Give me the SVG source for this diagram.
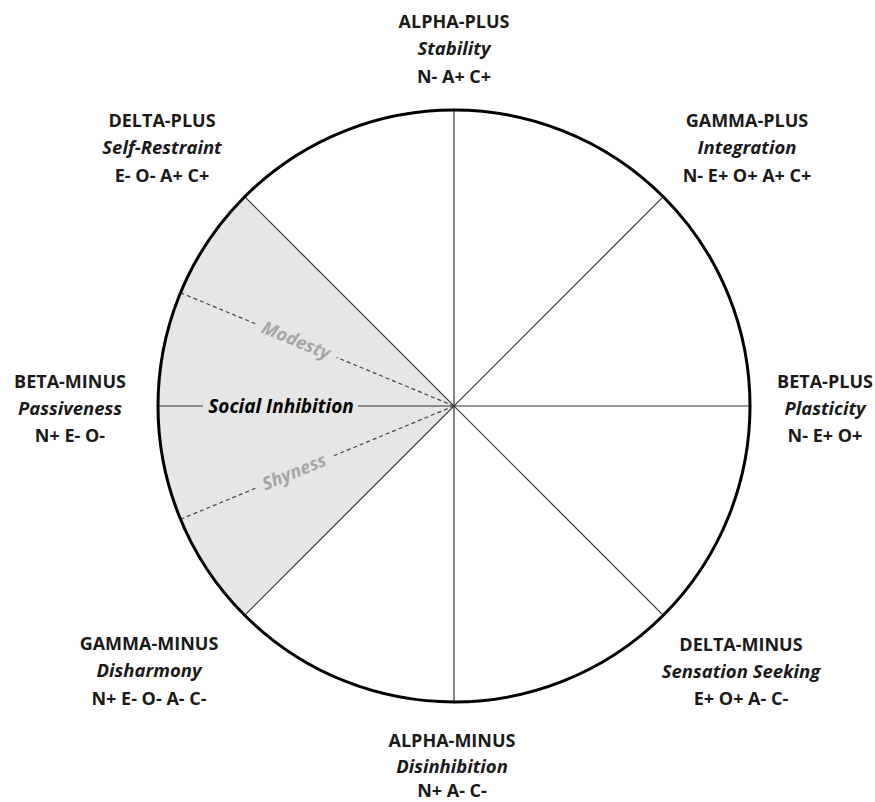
<svg xmlns="http://www.w3.org/2000/svg" width="875" height="802" viewBox="0 0 875 802">
<style>
text{font-family:"Open Sans","Liberation Sans",sans-serif;font-size:18px;fill:#1a1a1a;text-anchor:middle;font-weight:bold}
.s{font-style:italic;font-size:18.5px}
.ax{stroke:#333;stroke-width:1.2;fill:none}
.da{stroke:#444;stroke-width:1.2;stroke-dasharray:4 3;fill:none}
.g{fill:#a6a6a6;font-style:italic;font-size:18px}
</style>
<rect width="875" height="802" fill="#fff"/>
<g id="sector">
<path d="M454,406 L244.7,196.7 A296,296 0 0 0 244.7,615.3 Z" fill="#e6e6e6"/>
</g>
<g id="connectors">
<line class="ax" x1="454" y1="110" x2="454" y2="702"/>
<line class="ax" x1="158" y1="406" x2="203" y2="406"/>
<line class="ax" x1="358" y1="406" x2="750" y2="406"/>
<line class="ax" x1="244.7" y1="196.7" x2="663.3" y2="615.3"/>
<line class="ax" x1="244.7" y1="615.3" x2="663.3" y2="196.7"/>
<g transform="translate(454,406) rotate(22.5)">
<line class="da" x1="0" y1="0" x2="-127" y2="0"/>
<line class="da" x1="-215" y1="0" x2="-295" y2="0"/>
<text class="g" x="-171" y="6">Modesty</text>
</g>
<g transform="translate(454,406) rotate(-22.5)">
<line class="da" x1="0" y1="0" x2="-132" y2="0"/>
<line class="da" x1="-215" y1="0" x2="-295" y2="0"/>
<text class="g" x="-173" y="6">Shyness</text>
</g>
<text x="281" y="413" style="font-style:italic;font-size:19px;fill:#000">Social Inhibition</text>
</g>
<circle cx="454" cy="406" r="296" fill="none" stroke="#000" stroke-width="3"/>
<g id="alpha-plus"><text x="454" y="28">ALPHA-PLUS</text><text class="s" x="454" y="55">Stability</text><text x="454" y="83">N- A+ C+</text></g>
<g id="gamma-plus"><text x="747" y="127">GAMMA-PLUS</text><text class="s" x="747" y="154">Integration</text><text x="747" y="182">N- E+ O+ A+ C+</text></g>
<g id="beta-plus"><text x="825" y="388">BETA-PLUS</text><text class="s" x="825" y="415">Plasticity</text><text x="825" y="442">N- E+ O+</text></g>
<g id="delta-minus"><text x="741" y="651">DELTA-MINUS</text><text class="s" x="741" y="678">Sensation Seeking</text><text x="741" y="705">E+ O+ A- C-</text></g>
<g id="alpha-minus"><text x="452" y="747">ALPHA-MINUS</text><text class="s" x="452" y="773">Disinhibition</text><text x="452" y="797">N+ A- C-</text></g>
<g id="gamma-minus"><text x="149" y="650">GAMMA-MINUS</text><text class="s" x="149" y="677">Disharmony</text><text x="149" y="705">N+ E- O- A- C-</text></g>
<g id="beta-minus"><text x="70" y="388">BETA-MINUS</text><text class="s" x="70" y="415">Passiveness</text><text x="70" y="442">N+ E- O-</text></g>
<g id="delta-plus"><text x="162" y="127">DELTA-PLUS</text><text class="s" x="162" y="154">Self-Restraint</text><text x="162" y="182">E- O- A+ C+</text></g>
</svg>
